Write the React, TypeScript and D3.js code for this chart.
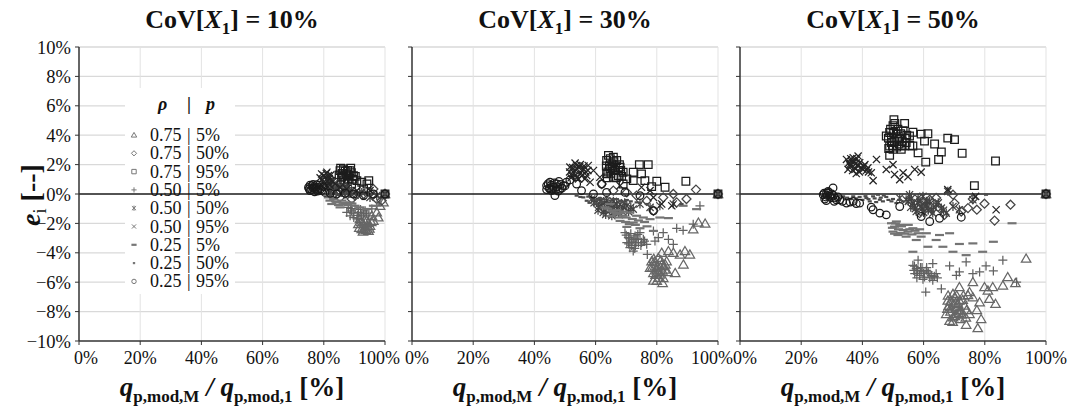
import React from 'react';
import * as d3 from 'd3';

type Pt = [number, number];

const xTicks = [0, 20, 40, 60, 80, 100];
const yTicks = [-10, -8, -6, -4, -2, 0, 2, 4, 6, 8, 10];
const panelCoV = ['10%', '30%', '50%'];
const legendRho = ['0.75', '0.75', '0.75', '0.50', '0.50', '0.50', '0.25', '0.25', '0.25'];
const legendP = ['5%', '50%', '95%', '5%', '50%', '95%', '5%', '50%', '95%'];

// ---------- CoV[X1] = 10% ----------
const c10_t: Pt[] = [[91.8,-1.7],[92.9,-2.05],[94,-1.82],[95.1,-2.16],[92.4,-2.39],[93.5,-2.27],[94.6,-2.5],[91.3,-2.05],[96.2,-1.82],[97.3,-1.25],[98.4,-0.8],[97.8,-1.59],[95.7,-1.48],[99.5,-0.57],[93,-2.4],[94.2,-2.2],[92.2,-1.9],[93.2,-1.8],[94.5,-1.95],[93.8,-2.45],[92.8,-2.55],[95.5,-1.9],[91.6,-2.3],[94.9,-2.35],[100,0]];
const c10_d: Pt[] = [[83.2,0],[85.3,-0.23],[87.5,0.11],[90.2,-0.11],[93,0],[95.1,0.11],[97.3,-0.34],[98.9,-0.45],[89.1,-0.34],[96.2,0.34],[100,0]];
const c10_s: Pt[] = [[85.3,1.59],[86.4,1.7],[87.5,1.36],[88.6,1.59],[85.8,1.14],[88,1.02],[89.7,1.25],[86.9,0.8],[90.8,0.91],[92.4,0.8],[94.1,0.68],[93,0.34],[94.7,0.91],[89.1,0.68],[86,1.4],[87.8,1.6],[85,1.3],[86.2,1.2],[87,1.55],[88.2,1.3],[89,1.45],[89.5,1],[86.5,0.95],[87.7,0.85],[88.8,1.75],[85.5,1.75],[90.3,1.2],[100,0]];
const c10_p: Pt[] = [[88,-0.91],[89.1,-1.14],[90.2,-1.02],[91.3,-1.25],[92.4,-1.48],[93.5,-1.14],[88.6,-1.48],[90.8,-1.7],[94.7,-1.48],[87.5,-1.25],[95.7,-1.02],[97.3,-0.8],[89.6,-1.3],[91,-1.45],[92,-1.05],[93,-1.35],[89.8,-1.6],[91.8,-1.7],[94,-1.3],[88.8,-1],[100,0]];
const c10_a: Pt[] = [[81,0.45],[82.1,0.23],[83.2,0.68],[84.2,0.34],[85.9,0.11],[87.5,0.45],[89.1,0.23],[90.8,0],[92.4,0.11],[95.1,-0.23],[97.3,-0.11],[82.1,0.91],[82.5,0.5],[83.8,0.2],[85,0.5],[86.3,0.3],[88,0.1],[84.5,0.6],[86.8,0.25],[81.6,0.7],[100,0]];
const c10_x: Pt[] = [[79.3,1.36],[80.4,1.14],[81.5,1.25],[82.6,0.91],[79.9,0.8],[81,1.48],[83.7,0.68],[80.9,0.57],[85.3,0.45],[87.5,0.34],[90.8,0.23],[95.1,0.23],[79.5,1],[80,1.25],[80.8,1.4],[81.8,1.05],[82.3,1.3],[83,0.85],[80.2,0.7],[81.3,0.85],[82,0.6],[78.8,1.1],[100,0]];
const c10_ld: Pt[] = [[81.5,-0.23],[83.2,-0.34],[84.2,-0.57],[85.9,-0.45],[87,-0.68],[88.6,-0.57],[90.2,-0.8],[91.8,-0.91],[94,-1.02],[82.6,-0.68],[85.3,-0.91],[96.2,-0.8],[83.8,-0.5],[86.3,-0.6],[87.8,-0.75],[89.2,-0.65],[84.8,-0.75],[82,-0.45],[100,0]];
const c10_sd: Pt[] = [[77.2,0.23],[78.8,0.11],[80.4,0],[82.1,-0.11],[83.7,0],[85.3,-0.11],[87,-0.23],[88.6,-0.18],[90.8,-0.27],[93,-0.34],[100,0]];
const c10_c: Pt[] = [[75,0.45],[76.1,0.57],[77.2,0.34],[78.3,0.45],[79.3,0.23],[75.5,0.23],[77.7,0.64],[80.4,0.11],[82.1,0.05],[84.2,0],[87,0.05],[89.7,0],[93,-0.11],[96.2,0],[76.5,0.4],[78,0.3],[75.5,0.6],[76,0.3],[76.8,0.5],[77.5,0.45],[78.5,0.6],[79,0.35],[79.8,0.5],[75.2,0.35],[76.5,0.65],[78,0.2],[77,0.15],[100,0]];

// ---------- CoV[X1] = 30% ----------
const c30_t: Pt[] = [[78.3,-4.57],[79.4,-4.91],[80.5,-4.34],[81.6,-4.79],[82.7,-5.14],[78.9,-5.37],[81,-5.48],[79.9,-5.14],[83.2,-4.57],[77.8,-5.02],[82.1,-5.71],[80,-5.2],[81.2,-5],[78.5,-5],[79.2,-4.6],[80.2,-4.9],[80.8,-5.3],[81.8,-5.2],[82.3,-4.9],[79.6,-5.5],[80.6,-5.7],[82.8,-4.8],[79,-4.4],[81.3,-4.5],[83.5,-5.3],[80,-5.9],[78.9,-5.89],[81.9,-6.05],[86,-5.37],[88.7,-4.79],[90.8,-4.11],[87.6,-4.11],[85.4,-3.99],[81.6,-3.99],[89.2,-3.88],[93.6,-1.94],[95.8,-2.01],[91.9,-2.4],[83.8,-3.88],[100,0]];
const c30_d: Pt[] = [[92.8,0.3],[89.7,-0.34],[85.4,0],[82.1,-0.23],[78.9,-1.14],[73.4,-0.11],[70.2,0.11],[86.5,-0.57],[65.8,0.23],[62,0.68],[76.7,-0.46],[100,0]];
const c30_s: Pt[] = [[64.2,2.63],[63.6,2.28],[65.3,2.05],[66.9,2.28],[64.7,1.71],[66.3,1.6],[68,1.83],[63.6,1.37],[67.4,1.26],[69,1.48],[65.8,1.14],[70.2,1.03],[64.5,1.9],[66,2.2],[65,1.4],[63.5,1.9],[64,1.5],[65.5,1.8],[66.5,1.9],[67.5,1.6],[68.5,1.2],[64.8,2.4],[65.8,2.5],[63.8,1.1],[66.8,1.1],[67.8,2],[68.2,1.6],[74.3,2],[77.2,2],[75,1.37],[72.3,0.91],[76.1,0.91],[80,0.87],[78.3,0.5],[89.5,0.87],[82.7,0.46],[69,0.68],[72.3,1.48],[100,0]];
const c30_p: Pt[] = [[69.6,-2.63],[70.7,-2.97],[71.8,-3.2],[72.9,-2.85],[74,-3.31],[75.6,-3.08],[71.2,-3.65],[72.3,-3.88],[70.2,-3.31],[76.7,-3.42],[74.5,-2.63],[71,-3],[73,-3.5],[70,-2.8],[71.5,-2.7],[72.5,-3.1],[73.5,-3],[74.8,-3.5],[71.8,-3.5],[72.8,-3.7],[73.8,-2.75],[75,-3.3],[70.8,-3.4],[76,-3.2],[73.2,-3.3],[78.9,-2.51],[82.1,-2.63],[86.5,-2.33],[88.6,-2.47],[83.8,-3.08],[85.4,-3.42],[80.5,-2.97],[76.9,-4.11],[94.1,-0.8],[91.9,-2.05],[79.4,-3.2],[100,0]];
const c30_a: Pt[] = [[60.3,-0.57],[62,-0.8],[63.6,-0.46],[65.3,-0.91],[66.9,-0.68],[68.5,-1.14],[70.2,-0.8],[72.3,-1.03],[74.5,-0.68],[62.5,-1.26],[65.3,-1.48],[58.7,-0.34],[77.8,-0.91],[81,-0.8],[85.4,-0.68],[64,-0.7],[67,-1],[59.5,-0.6],[61,-0.9],[62.8,-0.6],[64.5,-1.1],[66,-0.8],[67.5,-1.3],[69,-0.9],[70.8,-1.2],[60.8,-1.1],[63.3,-1.4],[65.8,-0.5],[68,-0.7],[61.5,-0.5],[63,-1.05],[66.2,-1.2],[69.5,-0.6],[71.5,-0.9],[100,0]];
const c30_x: Pt[] = [[51.6,1.83],[52.7,1.48],[53.8,1.94],[54.9,1.37],[56,1.71],[57.1,1.26],[52.2,1.26],[54.4,1.03],[57.6,1.94],[53.3,2.1],[56.5,1.03],[53,1.6],[55.5,1.6],[51.5,1.5],[52.5,1.8],[53.5,1.3],[54,1.7],[55,2],[55.8,1.3],[56.8,1.5],[57.5,1.6],[52,1.1],[53.8,1.1],[54.8,1.85],[56.2,1.9],[59.3,1.6],[61.4,1.14],[58.2,0.8],[68,0.57],[75,0.46],[78.9,-0.23],[81.6,-0.68],[84.9,-0.8],[77.8,0.23],[100,0]];
const c30_ld: Pt[] = [[63.1,-0.91],[65.3,-1.14],[66.9,-1.37],[69,-1.48],[71.2,-1.26],[73.4,-1.48],[75.6,-1.6],[77.8,-1.71],[81,-1.6],[83.8,-1.64],[68,-1.83],[72.3,-1.94],[70.2,-2.24],[74.5,-2.33],[78.9,-2.51],[64,-1],[66,-1.25],[68,-1.3],[70,-1.6],[72,-1.7],[74,-1.8],[76,-1.9],[67.5,-1.6],[69.8,-1.9],[73,-2.1],[76.8,-2.2],[71,-2.05],[65,-1.5],[67,-1.1],[69,-1.2],[93,-1.03],[88.6,-0.8],[64.7,-0.68],[100,0]];
const c30_sd: Pt[] = [[53.8,-0.11],[56,-0.23],[57.6,-0.18],[59.3,-0.34],[61.4,-0.27],[63.6,-0.23],[65.8,-0.34],[68,-0.46],[70.2,-0.41],[73.4,-0.57],[76.7,-0.68],[57.1,-0.46],[88.1,-0.68],[55,-0.2],[58.5,-0.25],[60.5,-0.4],[62.5,-0.35],[64.8,-0.45],[67,-0.35],[69,-0.55],[71.5,-0.5],[74.5,-0.6],[58,-0.6],[60,-0.65],[62,-0.55],[100,0]];
const c30_c: Pt[] = [[44,0.57],[45.1,0.8],[46.2,0.46],[47.3,0.68],[48.4,0.34],[49.5,0.57],[45.6,0.23],[50.5,0.8],[46.7,-0.11],[51.6,0.96],[44.8,0.4],[47,0.3],[44.5,0.7],[45.5,0.6],[46.5,0.75],[47.5,0.5],[48.5,0.65],[49,0.4],[45,0.35],[46,0.3],[47.8,0.2],[44,0.3],[50,0.55],[48,0.85],[55.4,0.23],[59.3,0],[63.6,0.11],[69.6,0.11],[74.5,-0.11],[78.9,-1.14],[62,0.68],[53.8,0.68],[100,0]];

// ---------- CoV[X1] = 50% ----------
const c50_t: Pt[] = [[67.9,-7.25],[69,-7.7],[70.1,-7.02],[71.2,-7.47],[72.3,-7.93],[69.6,-8.39],[68.5,-8.62],[71.7,-7.25],[73.4,-7.59],[70.7,-8.16],[67.4,-8.16],[74.5,-6.88],[69.6,-6.79],[68.2,-7.6],[70.5,-7.4],[72,-8.5],[68,-6.9],[68.8,-7.3],[69.8,-7.5],[70.8,-7.7],[71.8,-7.9],[72.8,-7.2],[68.8,-8],[69.5,-8.7],[70.2,-8.3],[71.5,-8.1],[72.5,-8.2],[73,-6.9],[67.8,-7.8],[74,-7.9],[70.8,-6.9],[73.8,-8.4],[93.5,-4.39],[87.5,-5.65],[90,-6.06],[85.9,-6.22],[82.6,-6.33],[79.9,-6.33],[76.1,-5.99],[75,-6.67],[81,-6.56],[83.5,-7.47],[81.5,-7.13],[78.3,-7.36],[77.4,-7.89],[78.8,-8.5],[73.9,-8.89],[77.7,-9.12],[71.7,-6.33],[75,-8.16],[76.1,-7.02],[100,0]];
const c50_d: Pt[] = [[58.7,-1.3],[60.3,-0.85],[65.2,-0.96],[66.8,-1.42],[70.1,-0.62],[72.3,-1.19],[74.5,-0.96],[77.4,-1.07],[79.9,-0.66],[83.2,-1.81],[88.4,-0.73],[69.6,-0.05],[64.1,-0.27],[76.1,-0.34],[62,-0.39],[100,0]];
const c50_s: Pt[] = [[50.3,5.05],[50,4.64],[48.9,4.18],[49.5,3.84],[51.1,4.07],[52.2,3.73],[53.3,4.3],[54.3,3.5],[55.4,3.95],[48.9,3.27],[50,3.04],[52.7,3.04],[56.5,3.27],[48.9,2.63],[51.6,4.41],[47.8,3.95],[49.5,3.5],[53.8,3.27],[58.2,2.8],[50.5,3.6],[52,3.4],[48.5,3.8],[49.2,4.4],[50.2,4.2],[51.5,3.8],[52.5,4.1],[53,3.6],[54.5,4],[49.8,3.3],[51.2,3.2],[52.8,3.3],[50.6,4.8],[48.6,3.1],[54,3.8],[55.5,3.3],[53.8,4.8],[56.5,4.2],[59.2,4.07],[61.4,4.1],[60.3,3.6],[63.6,3.4],[65.8,2.86],[67.9,3.8],[70.1,3.7],[72.6,2.77],[64.9,2.35],[60.7,2.17],[83.5,2.24],[76.6,0.57],[100,0]];
const c50_p: Pt[] = [[56.5,-4.85],[57.6,-5.07],[59.2,-5.3],[60.9,-5.19],[62.5,-5.53],[64.1,-5.42],[58.7,-5.53],[60.3,-5.65],[57.1,-5.42],[63,-5.87],[58.2,-4.5],[59.5,-5],[61.5,-5.4],[57,-4.9],[58,-5.2],[59,-5],[60,-5.4],[61.5,-5.3],[62,-5.7],[63.5,-5.6],[57.8,-5.7],[59.8,-5.8],[61,-5],[64.5,-5.7],[56.8,-5.2],[63,-4.73],[68.5,-4.89],[71.7,-5.3],[73.9,-4.62],[78.3,-5.3],[80.4,-4.89],[82.8,-5.23],[85.9,-4.5],[90.4,-5.99],[65.8,-6.45],[60.7,-6.67],[70.7,-5.53],[76.1,-5.42],[100,0]];
const c50_a: Pt[] = [[54.3,-0.39],[56.5,-0.62],[58.2,-0.27],[59.2,-0.85],[60.9,-0.5],[62.5,-1.07],[64.1,-0.73],[65.8,-0.96],[67.4,-1.3],[57.6,-1.19],[55.4,-0.05],[52.2,-0.27],[59.8,-0.16],[69.6,-0.85],[71.7,-1.07],[76.1,-0.39],[67.9,0.18],[58,-0.6],[61,-0.8],[55,-0.5],[56,-0.3],[57,-0.8],[58.8,-0.5],[59.5,-1],[60.5,-0.7],[61.5,-1.1],[62,-0.5],[63.3,-0.9],[64.8,-0.6],[66.5,-1.1],[57.3,-1],[60,-1.25],[63,-1.3],[55.8,-0.9],[100,0]];
const c50_x: Pt[] = [[34.8,2.35],[35.9,2],[37,2.47],[38.6,2.58],[37.5,1.78],[39.1,2.13],[40.2,1.67],[41.8,1.78],[42.9,1.44],[35.3,1.67],[38,1.39],[40.8,2],[36.5,2.2],[38.5,1.9],[35.5,2.1],[36.2,2.4],[37.2,2.2],[38,2.1],[39.5,1.8],[40.5,1.9],[41.3,1.6],[36.8,1.6],[37.8,1.7],[39,1.5],[42,1.5],[36,1.9],[38.2,2.4],[44.6,2.35],[47.8,1.67],[50,2],[50.5,1.33],[53.3,1.44],[54.9,1.17],[57.1,1.67],[59.2,1.49],[52.2,0.98],[43.5,0.91],[67.9,0.3],[77,-0.16],[83.7,-1.07],[100,0]];
const c50_ld: Pt[] = [[49.5,-1.99],[50.5,-2.22],[52.2,-2.1],[53.3,-2.45],[54.9,-2.56],[56.5,-2.33],[58.2,-2.67],[59.2,-2.9],[50,-2.56],[51.6,-2.79],[54.3,-2.9],[51.1,-1.87],[57.6,-3.13],[60.9,-2.67],[49.8,-2.3],[50.8,-2],[51.8,-2.4],[52.8,-2.2],[53.8,-2.7],[55.5,-2.4],[56.2,-2.75],[57.2,-2.5],[52.5,-2.65],[55,-2.1],[58.7,-2.4],[50.5,-2.7],[65.2,-2.79],[68.5,-2.67],[71.7,-3.4],[76.1,-3.36],[66.3,-3.59],[61.4,-3.59],[69.6,-3.93],[73.9,-4.16],[79.3,-3.93],[82.8,-3.25],[88.9,-1.99],[56.5,-3.93],[64.1,-3.13],[100,0]];
const c50_sd: Pt[] = [[37,-0.16],[39.1,-0.2],[41.3,-0.27],[43.5,-0.16],[45.7,-0.39],[47.8,-0.2],[50,-0.34],[51.1,-0.62],[42.4,-0.5],[46.7,-0.5],[45.1,-0.05],[33.7,-0.16],[53.3,-0.5],[35,-0.25],[36,-0.35],[38,-0.3],[40,-0.4],[42,-0.35],[44,-0.3],[46,-0.25],[48.5,-0.4],[49.5,-0.5],[52,-0.4],[44.5,-0.55],[41,-0.15],[47,-0.1],[80.4,-0.05],[100,0]];
const c50_c: Pt[] = [[27.2,-0.05],[28.3,0.07],[29.3,-0.16],[31,-0.27],[27.7,-0.34],[32.6,-0.39],[34.8,-0.62],[37,-0.5],[28.8,0.18],[30.4,0.41],[39.1,-0.62],[28,-0.2],[30,0],[27.5,0.05],[28.5,-0.1],[29,0.1],[29.8,-0.25],[30.5,-0.1],[31.5,-0.4],[28.2,-0.45],[30.8,-0.5],[32,-0.2],[33.5,-0.5],[36,-0.55],[38,-0.65],[43.5,-1.07],[45.7,-1.3],[47.8,-1.42],[42.9,-0.89],[62,-1.87],[72.3,-1.58],[65.2,-1.65],[59.2,-1.53],[52.2,-0.85],[100,0]];

const panelData: Pt[][][] = [
  [c10_t, c10_d, c10_s, c10_p, c10_a, c10_x, c10_ld, c10_sd, c10_c],
  [c30_t, c30_d, c30_s, c30_p, c30_a, c30_x, c30_ld, c30_sd, c30_c],
  [c50_t, c50_d, c50_s, c50_p, c50_a, c50_x, c50_ld, c50_sd, c50_c],
];

const markerKinds = ['triangle', 'diamond', 'square', 'plus', 'star', 'x', 'dash', 'dot', 'circle'];
const markerColors = ['#676767', '#444444', '#1c1c1c', '#626262', '#424242', '#242424', '#747474', '#4c4c4c', '#1a1a1a'];

const FONT = '"Liberation Serif", "Times New Roman", serif';

function markerPath(kind: string, r: number): string {
  switch (kind) {
    case 'triangle': return `M0,${-r}L${r * 1.05},${r * 0.8}L${-r * 1.05},${r * 0.8}Z`;
    case 'diamond': return `M0,${-r}L${r},0L0,${r}L${-r},0Z`;
    case 'square': { const s = r * 0.85; return `M${-s},${-s}H${s}V${s}H${-s}Z`; }
    case 'plus': return `M${-r},0H${r}M0,${-r}V${r}`;
    case 'star': { const s = r * 0.8; return `M${-s},${-s}L${s},${s}M${-s},${s}L${s},${-s}M0,${-r}V${r}`; }
    case 'x': { const s = r * 0.8; return `M${-s},${-s}L${s},${s}M${-s},${s}L${s},${-s}`; }
    case 'dash': return `M${-r},0H${r}`;
    case 'dot': return `M${-r * 0.45},0H${r * 0.45}`;
    default: return '';
  }
}

function Marker({ kind, color, r, x, y, sw = 1.25 }: { kind: string; color: string; r: number; x: number; y: number; sw?: number }) {
  if (kind === 'circle') {
    return <circle cx={x} cy={y} r={r * 0.85} fill="none" stroke={color} strokeWidth={sw} />;
  }
  const w = kind === 'dash' || kind === 'dot' ? 2.2 : sw;
  return <path transform={`translate(${x},${y})`} d={markerPath(kind, r)} fill="none" stroke={color} strokeWidth={w} />;
}

const panelLefts = [79, 412, 740];
const PW = 306;
const TOP = 47;
const BOTTOM = 341;

function xLabelOffset(idx: number, t: number): number {
  if (t === 0) return idx === 0 ? 7 : 5;
  if (t === 100 && idx < 2) return -6;
  return 0;
}

function Panel({ idx }: { idx: number }) {
  const left = panelLefts[idx];
  const x = d3.scaleLinear().domain([0, 100]).range([left, left + PW]);
  const y = d3.scaleLinear().domain([-10, 10]).range([BOTTOM, TOP]);
  const series = panelData[idx];
  const cx = left + PW / 2;
  return (
    <g>
      {yTicks.filter((t) => t !== 0 && t !== -10).map((t) => (
        <line key={'gy' + t} x1={left} x2={left + PW} y1={y(t)} y2={y(t)} stroke="#d9d9d9" strokeWidth={1.3} />
      ))}
      {xTicks.filter((t) => t !== 0).map((t) => (
        <line key={'gx' + t} x1={x(t)} x2={x(t)} y1={TOP} y2={BOTTOM} stroke="#e3e3e3" strokeWidth={1} />
      ))}
      {idx === 0 && <rect x={125} y={88} width={110} height={206} fill="#fff" />}
      <line x1={left} x2={left + PW} y1={y(0)} y2={y(0)} stroke="#1a1a1a" strokeWidth={1.3} />
      <line x1={left} x2={left} y1={TOP} y2={BOTTOM} stroke="#333" strokeWidth={1.5} />
      <line x1={left} x2={left + PW} y1={BOTTOM} y2={BOTTOM} stroke="#333" strokeWidth={1.5} />
      {yTicks.map((t) => (
        <line key={'ty' + t} x1={left - 4} x2={left} y1={y(t)} y2={y(t)} stroke="#333" strokeWidth={1} />
      ))}
      {xTicks.map((t) => (
        <line key={'tx' + t} x1={x(t)} x2={x(t)} y1={BOTTOM} y2={BOTTOM + 4} stroke="#333" strokeWidth={1} />
      ))}
      {idx === 0 && yTicks.map((t) => (
        <text key={'ly' + t} x={left - 8} y={y(t) + 6.5} textAnchor="end" fontFamily={FONT} fontSize={18.5} fill="#111">
          {(t < 0 ? '\u2212' + Math.abs(t) : String(t)) + '%'}
        </text>
      ))}
      {xTicks.map((t) => (
        <text key={'lx' + t} x={x(t) + xLabelOffset(idx, t)} y={BOTTOM + 23} textAnchor="middle" fontFamily={FONT} fontSize={18} fill="#111">
          {t + '%'}
        </text>
      ))}
      {series.map((pts, si) => (
        <g key={'s' + si}>
          {pts.map((p, pi) => (
            <Marker key={pi} kind={markerKinds[si]} color={markerColors[si]} r={4.5} x={x(p[0])} y={y(p[1])} />
          ))}
        </g>
      ))}
      <text x={cx} y={28} textAnchor="middle" fontFamily={FONT} fontSize={26} fontWeight="bold" fill="#111">
        CoV[<tspan fontStyle="italic">X</tspan><tspan fontSize={17} dy={6}>1</tspan><tspan dy={-6}>] = {panelCoV[idx]}</tspan>
      </text>
      <text x={cx} y={396} textAnchor="middle" fontFamily={FONT} fontSize={27} fontWeight="bold" fill="#111">
        <tspan fontStyle="italic">q</tspan><tspan fontSize={17} dy={6}>p,mod,M</tspan><tspan dy={-6} fontStyle="italic"> / q</tspan><tspan fontSize={17} dy={6}>p,mod,1</tspan><tspan dy={-6}> [%]</tspan>
      </text>
    </g>
  );
}

function Legend() {
  const y0 = 135;
  const step = 18.3;
  return (
    <g>
      <text y={110} fontFamily={FONT} fontSize={18} fontWeight="bold" fill="#111">
        <tspan x={158} fontStyle="italic">ρ</tspan>
        <tspan x={187}>|</tspan>
        <tspan x={206} fontStyle="italic">p</tspan>
      </text>
      {legendRho.map((r, i) => (
        <g key={i}>
          <Marker kind={markerKinds[i]} color="#777" r={2.6} x={134} y={y0 + i * step} sw={1} />
          <text y={y0 + i * step + 6} fontFamily={FONT} fontSize={18} fill="#111">
            <tspan x={150}>{r}</tspan>
            <tspan x={187}>|</tspan>
            <tspan x={196}>{legendP[i]}</tspan>
          </text>
        </g>
      ))}
    </g>
  );
}

export default function App() {
  return (
    <div style={{ position: 'absolute', left: 0, top: 0, background: '#fff' }}>
      <svg width={1077} height={410} viewBox="0 0 1077 410" style={{ display: 'block' }}>
        <rect width={1077} height={410} fill="#fff" />
        {[0, 1, 2].map((i) => <Panel key={i} idx={i} />)}
        <Legend />
        <text transform="translate(40,195) rotate(-90)" textAnchor="middle" fontFamily={FONT} fontSize={28} fontWeight="bold" fill="#111">
          <tspan fontStyle="italic">e</tspan><tspan fontSize={18} dy={6} fontWeight="normal">i</tspan><tspan dy={-6}> [--]</tspan>
        </text>
      </svg>
    </div>
  );
}
